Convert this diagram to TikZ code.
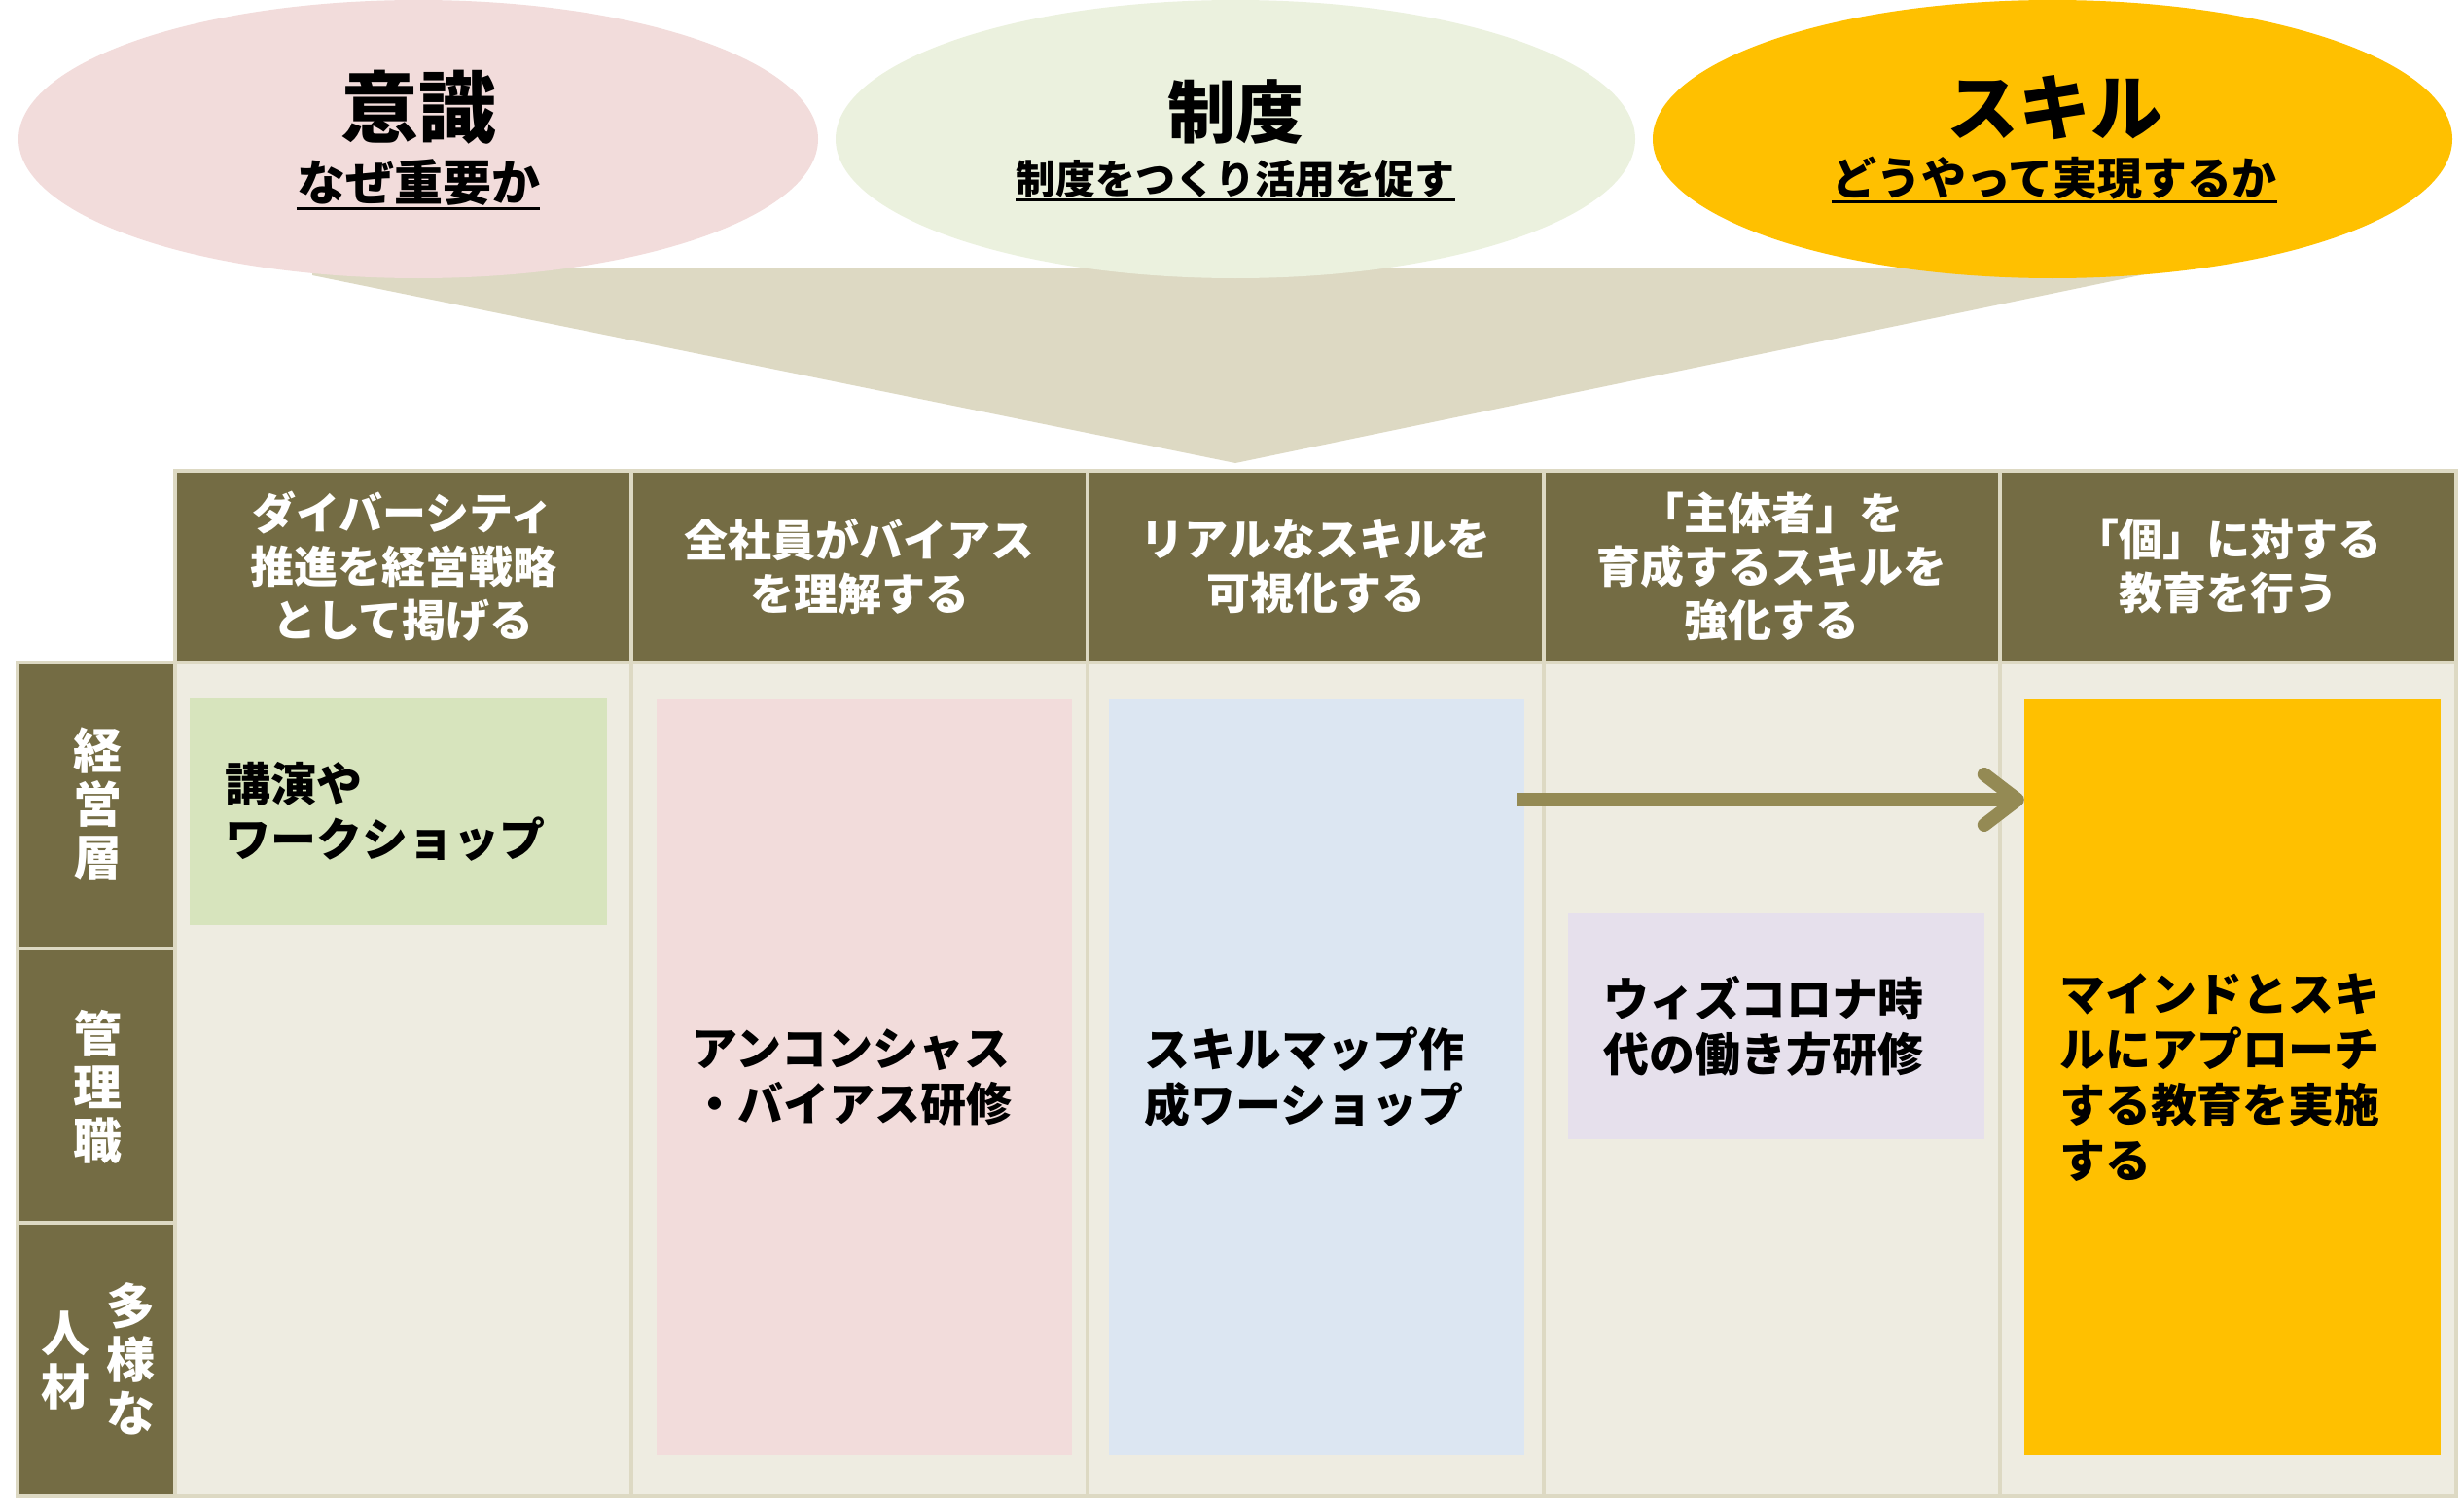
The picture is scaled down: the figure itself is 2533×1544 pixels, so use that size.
\documentclass[tikz,border=0pt]{standalone}
\usepackage{fontspec}
\setmainfont{Noto Sans CJK JP}
\usetikzlibrary{shapes.geometric,arrows.meta}
\definecolor{bgtan}{HTML}{EEECE1}
\definecolor{linetan}{HTML}{DDD9C3}
\definecolor{olivec}{HTML}{746C44}
\definecolor{arrowc}{HTML}{948A54}
\definecolor{pinkc}{HTML}{F2DCDB}
\definecolor{greenc}{HTML}{D7E4BD}
\definecolor{bluec}{HTML}{DCE6F2}
\definecolor{lavc}{HTML}{E6E0EC}
\definecolor{orangec}{HTML}{FFC000}
\definecolor{ellgreen}{HTML}{EBF1DE}
\begin{document}
\begin{tikzpicture}[x=1pt,y=-1pt,
  ell/.style={ellipse, minimum width=822pt, minimum height=286pt, inner sep=0pt},
  ttl/.style={inner sep=0pt, font=\bfseries\fontsize{#1}{#1}\selectfont},
  sub/.style={inner sep=0pt, font=\bfseries\fontsize{#1}{#1}\selectfont},
  uline/.style={draw=black, line width=3pt},
  hdr/.style={rectangle, fill=olivec, draw=linetan, line width=4pt, minimum width=469pt, minimum height=197pt, inner sep=0pt, text=white, align=center, font=\bfseries\fontsize{45pt}{55pt}\selectfont},
  bodycol/.style={rectangle, fill=bgtan, draw=linetan, line width=4pt, minimum width=469pt, minimum height=857pt, inner sep=0pt},
  lblcell/.style={rectangle, fill=olivec, draw=linetan, line width=4pt, minimum width=162pt, inner sep=0pt},
  lbltext/.style={inner sep=0pt, text=white, align=center, font=\bfseries\fontsize{50pt}{55pt}\selectfont},
  itembox/.style={rectangle, inner sep=0pt, align=left, font=\bfseries\fontsize{47pt}{57pt}\selectfont},
  arr/.style={draw=arrowc, line width=14pt, -{Straight Barb[length=34pt, width=52pt, round]}}
]
\useasboundingbox (0,0) rectangle (2533,1544);
% funnel
\fill[linetan] (321,275) -- (2205,275) -- (2205,282) -- (1270,476) -- (321,283) -- cycle;
% ellipses
\node[ell, fill=pinkc] (e1) at (430,143) {};
\node[ell, fill=ellgreen] (e2) at (1270,143) {};
\node[ell, fill=orangec] (e3) at (2110,143) {};
\node[ttl=80pt] (t1) at (430,110) {意識};
\node[ttl=70pt] (t2) at (1270,115) {制度};
\node[ttl=74pt] (t3) at (2112,111) {スキル};
\node[sub=50pt] (s1) at (430,188) {なぜ重要か};
\node[sub=41pt] (s2) at (1270,184) {制度をつくり活用を促す};
\node[sub=46pt] (s3) at (2112,183) {どうやって実現するか};
\draw[uline] ([yshift=-2pt]s1.south west) -- ([yshift=-2pt]s1.south east);
\draw[uline] ([yshift=-2pt]s2.south west) -- ([yshift=-2pt]s2.south east);
\draw[uline] ([yshift=-2pt]s3.south west) -- ([yshift=-2pt]s3.south east);
% body columns
\node[bodycol] (b1) at (414.5,1109.5) {};
\node[bodycol] (b2) at (883.5,1109.5) {};
\node[bodycol] (b3) at (1352.5,1109.5) {};
\node[bodycol] (b4) at (1821.5,1109.5) {};
\node[bodycol] (b5) at (2290.5,1109.5) {};
% header cells
\node[hdr] (h1) at (414.5,582.5) {ダイバーシティ\\推進を経営戦略\\として掲げる};
\node[hdr] (h2) at (883.5,582.5) {全社員がバイアス\\を理解する};
\node[hdr] (h3) at (1352.5,582.5) {リアルなスキルを\\可視化する};
\node[hdr] (h4) at (1821.5,582.5) {「主体者」を\\育成するスキルを\\強化する};
\node[hdr] (h5) at (2290.5,582.5) {「個」に対する\\教育を行う};
% row labels
\node[lblcell, minimum height=294pt] (r1) at (99,828) {};
\node[lblcell, minimum height=282pt] (r2) at (99,1116) {};
\node[lblcell, minimum height=281pt] (r3) at (99,1397.5) {};
\node[lbltext] (r1t) at (100,827) {経\\営\\層};
\node[lbltext] (r2t) at (100,1117) {管\\理\\職};
\node[lbltext] (r3a) at (134,1397) {多\\様\\な};
\node[lbltext] (r3b) at (67,1398) {人\\材};
% item boxes
\node[itembox, fill=greenc, minimum width=429pt, minimum height=233pt, text width=357pt] (g) at (409.5,834.5) {講演や\\ワークショップ};
\node[itembox, fill=pinkc, minimum width=427pt, minimum height=777pt, text width=355pt] (p) at (888.5,1107.5) {アンコンシャス\\・バイアス研修};
\node[itembox, fill=bluec, minimum width=427pt, minimum height=777pt, text width=355pt] (bl) at (1353.5,1107.5) {スキルマップ作\\成ワーショップ};
\node[itembox, fill=lavc, minimum width=428pt, minimum height=232pt, text width=356pt] (lv) at (1826,1055) {ウィズコロナ時\\代の働き方研修};
\node[itembox, fill=orangec, minimum width=428pt, minimum height=777pt, text width=356pt] (o) at (2295,1107.5) {マインドとスキ\\ルにアプローチ\\する教育を実施\\する};
% arrow
\coordinate (astart) at (1559,822);
\draw[arr] (astart) -- (astart -| o.west);
\end{tikzpicture}
\end{document}
